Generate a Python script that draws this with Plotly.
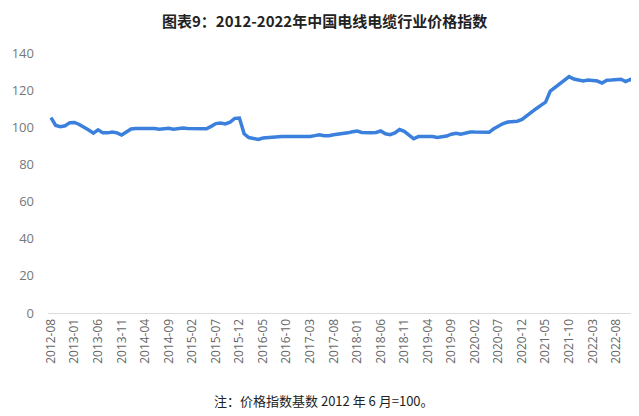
import plotly.graph_objects as go

months = []
y0, m0 = 2012, 8
for k in range(125):
    yy = y0 + (m0 - 1 + k) // 12
    mm = (m0 - 1 + k) % 12 + 1
    months.append(f"{yy}-{mm:02d}")

price_index = [
    105.2, 101.0, 100.3, 100.8, 102.5, 102.6, 101.5, 100.2, 98.5, 96.8,
    98.6, 97.0, 97.0, 97.5, 97.0, 95.8, 97.5, 99.1, 99.3, 99.4,
    99.4, 99.2, 99.3, 99.0, 99.2, 99.5, 99.0, 99.2, 99.6, 99.3,
    99.2, 99.4, 98.9, 99.2, 100.5, 102.0, 102.3, 101.8, 102.7, 104.8,
    105.0, 96.5, 94.5, 93.8, 93.5, 94.2, 94.5, 94.8, 95.0, 95.0,
    95.0, 95.0, 95.0, 95.0, 95.0, 95.1, 95.5, 96.0, 95.5, 95.5,
    96.0, 96.2, 96.6, 97.0, 97.6, 98.0, 97.2, 97.0, 97.0, 97.2,
    98.0, 96.5, 96.0, 97.0, 98.8, 97.8, 95.8, 93.8, 95.0, 95.0,
    95.0, 95.0, 94.5, 94.8, 95.3, 96.3, 96.8, 96.3, 97.0, 97.5,
    97.4, 97.3, 97.3, 97.3, 99.2, 100.7, 102.0, 102.8, 103.0, 103.3,
    104.2, 106.3, 108.2, 110.0, 111.8, 113.5, 119.5, 121.5, 123.3, 125.2,
    127.3, 126.0, 125.6, 125.0, 125.4, 125.3, 124.9, 123.8, 125.3, 125.4,
    125.5, 125.9, 124.6, 125.8, 124.2,
]

tick_idx = list(range(0, 121, 5))
tick_labels = [months[i] for i in tick_idx]
y_ticks = [0, 20, 40, 60, 80, 100, 120, 140]

title_text = "<b>图表9：2012-2022年中国电线电缆行业价格指数</b>"
note_text = "注：价格指数基数 2012 年 6 月=100。"

x_idx = list(range(len(price_index)))

# page body has an 8px default margin, so the figure is drawn 8px smaller
W, H = 631, 408
L, R, T, B = 40, 3, 45, 103
pw, ph = W - L - R, H - T - B

fig = go.Figure()
fig.add_trace(go.Scatter(
    x=x_idx, y=price_index, mode="lines",
    line=dict(color="#3A80DC", width=3.5, shape="linear"),
    hoverinfo="skip", showlegend=False,
))

fig.update_layout(
    width=W, height=H,
    margin=dict(l=L, r=R, t=T, b=B),
    paper_bgcolor="white", plot_bgcolor="white",
    font=dict(family="Open Sans, Noto Sans CJK SC, sans-serif", color="#666"),
    xaxis=dict(
        range=[-0.64, 124.2],
        tickmode="array", tickvals=tick_idx, ticktext=tick_labels,
        tickangle=-90, tickfont=dict(size=12, color="#666"),
        showgrid=False, zeroline=False,
        showline=True, linecolor="#dcdcdc", linewidth=1,
        ticks="", ticklen=0,
    ),
    yaxis=dict(
        range=[0, 140], tickvals=y_ticks,
        tickfont=dict(size=13, color="#777"),
        showgrid=False, zeroline=False, showline=False,
        ticks="", ticklabelstandoff=13,
    ),
    annotations=[
        dict(text=title_text, xref="paper", yref="paper",
             x=(316 - L) / pw, y=1 + (T - 0.5) / ph,
             xanchor="center", yanchor="top", showarrow=False,
             font=dict(family="Noto Sans CJK SC", size=15, color="#222")),
        dict(text=note_text, xref="paper", yref="paper",
             x=(316 - L) / pw, y=(H - B - 392) / ph,
             xanchor="center", yanchor="middle", showarrow=False,
             font=dict(family="Noto Sans CJK SC", size=13, color="#222")),
    ],
)

fig.write_html("out.html")
